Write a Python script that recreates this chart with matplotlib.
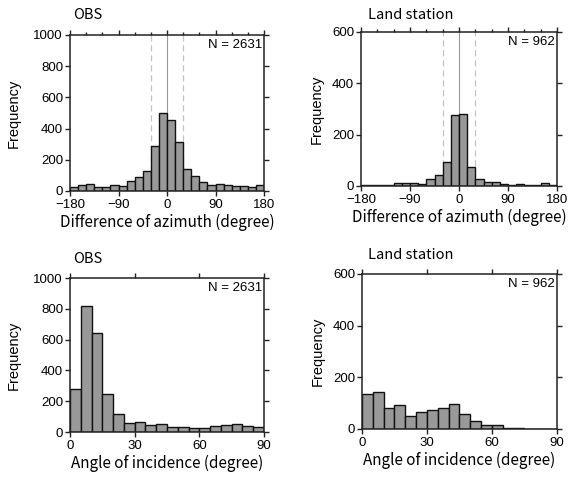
import matplotlib
matplotlib.use("Agg")
import matplotlib.pyplot as plt
import numpy as np
from matplotlib.ticker import MultipleLocator

# ==============================
# DATA (counts)
# azimuth difference: 24 bins of 15 degrees from -180 to 180
az_edges = np.arange(-180, 181, 15)
obs_az = [28, 37, 43, 26, 26, 37, 34, 65, 90, 125, 286, 501,
          456, 312, 144, 97, 58, 37, 43, 39, 34, 30, 28, 37]
land_az = [5, 5, 5, 5, 12, 10, 10, 8, 26, 42, 94, 276,
           281, 75, 27, 17, 17, 9, 4, 6, 4, 4, 13, 4]

# angle of incidence: 18 bins of 5 degrees from 0 to 90
inc_edges = np.arange(0, 91, 5)
obs_inc = [280, 821, 644, 248, 114, 60, 65, 43, 52,
           34, 34, 26, 26, 41, 43, 50, 41, 30]
land_inc = [136, 143, 80, 91, 50, 66, 74, 83, 98,
            58, 30, 17, 17, 5, 3, 0, 1, 0]

titles = ["OBS", "Land station", "OBS", "Land station"]
n_labels = ["N = 2631", "N = 962", "N = 2631", "N = 962"]
x_labels = ["Difference of azimuth (degree)", "Difference of azimuth (degree)",
            "Angle of incidence (degree)", "Angle of incidence (degree)"]
y_max = [1000, 600, 1000, 600]
# ==============================

JP = ["Noto Sans CJK JP", "DejaVu Sans"]
plt.rcParams["font.family"] = ["Liberation Sans", "DejaVu Sans"]
plt.rcParams["font.size"] = 9

fig = plt.figure(figsize=(5.82, 4.79), dpi=100)

# axes boxes in figure fractions
boxes = [
    [0.1203, 0.6013, 0.3333, 0.3257],
    [0.6203, 0.6117, 0.3368, 0.3215],
    [0.1203, 0.0981, 0.3333, 0.3215],
    [0.6220, 0.1044, 0.3350, 0.3236],
]
# title offsets above the axes (points) and left inset
title_dy = [14.5, 12.5, 13.5, 13.5]
title_dx = [2.5, 5.0, 2.5, 4.5]
ylab_pad = [9, 6, 9, 6]

panels = [
    (az_edges, obs_az),
    (az_edges, land_az),
    (inc_edges, obs_inc),
    (inc_edges, land_inc),
]

edge_col = "#222222"

for i, (box, (edges, counts)) in enumerate(zip(boxes, panels)):
    ax = fig.add_axes(box)
    edges = np.asarray(edges)
    widths = np.diff(edges)

    if i < 2:
        # reference lines behind the bars
        ax.axvline(0, color="#9a9a9a", lw=0.8, zorder=1)
        for xv in (-30, 30):
            ax.axvline(xv, color="#c4c4c4", lw=0.9, ls=(0, (5, 3)), zorder=1)

    ax.bar(edges[:-1], counts, width=widths, align="edge",
           color="#999999", edgecolor="#111111", linewidth=1.0, zorder=2)

    ax.set_xlim(edges[0], edges[-1])
    ax.set_ylim(0, y_max[i])
    ax.yaxis.set_major_locator(MultipleLocator(200))

    if i < 2:
        ax.xaxis.set_major_locator(MultipleLocator(90))
        ax.xaxis.set_minor_locator(MultipleLocator(30))
    else:
        ax.xaxis.set_major_locator(MultipleLocator(30))

    for s in ax.spines.values():
        s.set_linewidth(1.1)
        s.set_color(edge_col)

    ax.tick_params(which="major", direction="out", length=3.5, width=1.0,
                   color=edge_col, top=True, right=True,
                   labeltop=False, labelright=False, labelsize=9.5)
    ax.tick_params(axis="x", which="major", pad=2.5)
    ax.tick_params(axis="y", which="major", pad=1.5)
    ax.tick_params(which="minor", direction="out", length=2.5, width=1.0,
                   color=edge_col, top=True, bottom=False)

    ax.set_xlabel(x_labels[i], family=JP, fontsize=11, labelpad=2)
    ax.set_ylabel("Frequency", fontsize=10.5, labelpad=ylab_pad[i])

    ax.annotate(titles[i], xy=(0, 1), xycoords="axes fraction",
                xytext=(title_dx[i], title_dy[i]), textcoords="offset points",
                family=JP, fontsize=10.5, ha="left", va="center")
    ax.text(0.99, 0.975, n_labels[i], transform=ax.transAxes,
            ha="right", va="top", fontsize=9.5)

fig.savefig("out.png", dpi=100)
